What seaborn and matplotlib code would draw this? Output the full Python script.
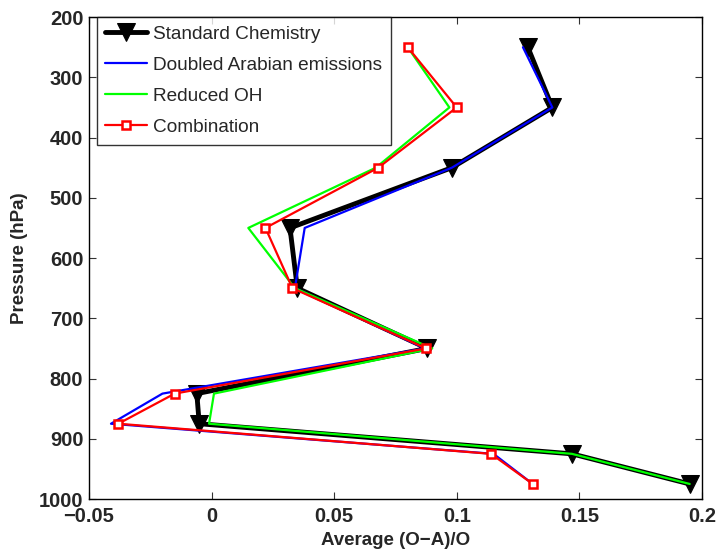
import matplotlib
matplotlib.use("Agg")
import matplotlib.pyplot as plt
import seaborn as sns
import numpy as np

pressure = [250, 350, 450, 550, 650, 750, 825, 875, 925, 975]
standard = [0.129, 0.139, 0.098, 0.032, 0.035, 0.088, -0.006, -0.005, 0.147, 0.195]
doubled = [0.127, 0.139, 0.098, 0.038, 0.034, 0.087, -0.020, -0.041, 0.115, 0.131]
reduced_oh = [0.080, 0.097, 0.067, 0.015, 0.034, 0.090, 0.001, -0.001, 0.147, 0.195]
combination = [0.080, 0.100, 0.068, 0.022, 0.033, 0.0875, -0.015, -0.038, 0.114, 0.131]

labels = ["Standard Chemistry", "Doubled Arabian emissions", "Reduced OH", "Combination"]
xticks = [-0.05, 0, 0.05, 0.1, 0.15, 0.2]
xticklabels = ["\u22120.05", "0", "0.05", "0.1", "0.15", "0.2"]
yticks = [200, 300, 400, 500, 600, 700, 800, 900, 1000]

sns.set_style("white")
plt.rcParams['font.family'] = ['Liberation Sans', 'DejaVu Sans']

fig = plt.figure(figsize=(7.17, 5.53), dpi=100)
ax = fig.add_axes([0.124, 0.0976, 0.855, 0.8715])

sns.lineplot(x=standard, y=pressure, orient='y', sort=False, ax=ax, color='black',
             linewidth=3.5, marker='v', markersize=13, markeredgecolor='black',
             label=labels[0], zorder=2)
sns.lineplot(x=doubled, y=pressure, orient='y', sort=False, ax=ax, color='#0000ff',
             linewidth=1.6, label=labels[1], zorder=3)
sns.lineplot(x=reduced_oh, y=pressure, orient='y', sort=False, ax=ax, color='#00ff00',
             linewidth=1.6, label=labels[2], zorder=4)
sns.lineplot(x=combination, y=pressure, orient='y', sort=False, ax=ax, color='#ff0000',
             linewidth=1.6, marker='s', markersize=6, markerfacecolor='white',
             markeredgecolor='#ff0000', markeredgewidth=1.8, label=labels[3], zorder=5)

ax.set_xlim(-0.05, 0.2)
ax.set_ylim(1000, 200)
ax.set_xticks(xticks)
ax.set_xticklabels(xticklabels)
ax.set_yticks(yticks)
for t in ax.get_xticklabels() + ax.get_yticklabels():
    t.set_fontweight('bold')
    t.set_fontsize(14.5)
ax.tick_params(direction='in', length=5, width=0.8, top=True, right=True,
               bottom=True, left=True, color='#333333')
ax.tick_params(axis='x', pad=6)
ax.tick_params(axis='y', pad=4)
for s in ax.spines.values():
    s.set_visible(True)
    s.set_color('black')
    s.set_linewidth(1.0)

ax.set_xlabel("Average (O\u2212A)/O", fontweight='bold', fontsize=13.5, labelpad=4)
ax.set_ylabel("Pressure (hPa)", fontweight='bold', fontsize=13.5, labelpad=8)

leg = ax.legend(loc='upper left', bbox_to_anchor=(8 / 613, 1.0), fontsize=13.7,
                frameon=True, fancybox=False, edgecolor='black', handlelength=2.2,
                handletextpad=0.3, borderaxespad=0.0, labelspacing=0.72,
                borderpad=0.45)
leg.get_frame().set_linewidth(1.0)

fig.savefig("out.png", dpi=100)
